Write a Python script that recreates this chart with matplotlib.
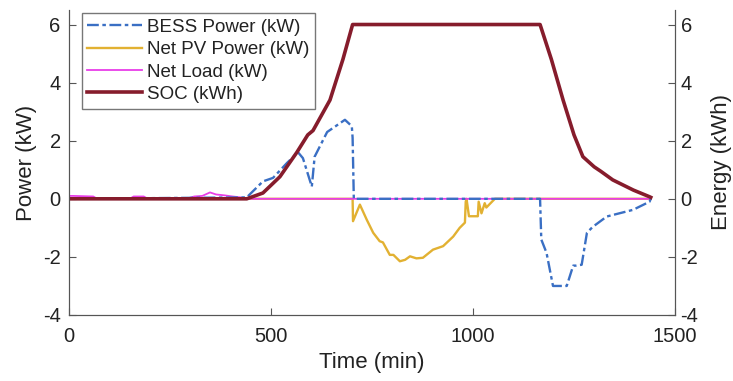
import numpy as np
import matplotlib.pyplot as plt

plt.rcParams['font.family'] = ['Liberation Sans', 'DejaVu Sans']
plt.rcParams['axes.unicode_minus'] = False

# BESS power (kW)
bess_t = [0, 440, 480, 505, 540, 567, 579, 601, 608, 639, 683, 700, 702, 705,
          1166, 1169, 1182, 1198, 1232, 1248, 1255, 1269, 1282, 1296, 1331, 1396, 1437, 1440]
bess_p = [0, 0.05, 0.6, 0.72, 1.24, 1.6, 1.4, 0.42, 1.45, 2.3, 2.72, 2.5, 2.1, 0,
          0, -1.4, -1.86, -3.0, -3.0, -2.3, -2.3, -2.27, -1.17, -0.97, -0.61, -0.38, -0.1, 0]

# Net PV power (kW)
pv_t = [0, 702, 703, 720, 737, 753, 769, 777, 794, 803, 819, 832, 844, 860, 876,
        901, 926, 951, 967, 980, 982, 984, 990, 1012, 1014, 1021, 1029, 1033, 1054, 1440]
pv_p = [0, 0, -0.77, -0.2, -0.72, -1.17, -1.46, -1.5, -1.93, -1.93, -2.15, -2.1, -1.98, -2.05, -2.03,
        -1.75, -1.63, -1.3, -1.0, -0.82, -0.1, 0, -0.6, -0.6, -0.1, -0.5, -0.15, -0.3, 0, 0]

# Net load (kW)
load_t = [0, 10, 60, 70, 150, 160, 185, 195, 290, 310, 330, 349, 364, 384, 405, 425, 430, 1440]
load_p = [0.1, 0.1, 0.08, 0, 0, 0.08, 0.08, 0, 0, 0.08, 0.1, 0.22, 0.15, 0.12, 0.08, 0.05, 0, 0]

# SOC (kWh)
soc_t = [0, 440, 480, 522, 564, 591, 604, 646, 678, 702, 1166, 1194, 1223, 1250, 1272,
         1300, 1316, 1346, 1397, 1437, 1440]
soc_e = [0, 0, 0.2, 0.76, 1.6, 2.2, 2.35, 3.4, 4.8, 6, 6, 4.8, 3.4, 2.2, 1.45,
         1.1, 0.95, 0.65, 0.3, 0.07, 0.05]

fig = plt.figure(figsize=(7.33, 3.81), dpi=100)
ax = fig.add_axes([69 / 733, 66 / 381, 606 / 733, 305 / 381])
ax2 = ax.twinx()

l2, = ax.plot(pv_t, pv_p, color='#e2b132', lw=1.7, label='Net PV Power (kW)')
l3, = ax.plot(load_t, load_p, color='#e83ee8', lw=1.3, label='Net Load (kW)')
l1, = ax.plot(bess_t, bess_p, color='#3a6fc4', lw=1.7, ls=(0, (5, 1.5, 1.5, 1.5)), label='BESS Power (kW)')
l4, = ax2.plot(soc_t, soc_e, color='#861c2c', lw=2.6, label='SOC (kWh)')

for a in (ax, ax2):
    a.set_xlim(0, 1500)
    a.set_ylim(-4, 6.5)
    a.set_yticks([-4, -2, 0, 2, 4, 6])
    a.spines['top'].set_visible(False)
    for s in ('left', 'right', 'bottom'):
        a.spines[s].set_color('#555555')
    a.tick_params(direction='in', length=5, colors='#555555', labelcolor='#222222', labelsize=14.5)

ax.set_xticks([0, 500, 1000, 1500])
ax.tick_params(axis='x', pad=9)
ax.tick_params(axis='y', pad=6)
ax2.tick_params(axis='y', pad=4)
ax.set_xlabel('Time (min)', fontsize=16, labelpad=4, color='#222222')
ax.set_ylabel('Power (kW)', fontsize=16, labelpad=4, color='#222222')
ax2.set_ylabel('Energy (kWh)', fontsize=16, labelpad=9, color='#222222')

leg = ax2.legend(handles=[l1, l2, l3, l4], loc='upper left', bbox_to_anchor=(0.021, 0.99),
                 fontsize=13.5, frameon=True, fancybox=False, edgecolor='#555555',
                 handlelength=2.9, labelspacing=0.28, borderpad=0.3, handletextpad=0.3,
                 borderaxespad=0)
leg.get_frame().set_linewidth(1.0)
for t in leg.get_texts():
    t.set_color('#222222')

fig.savefig('out.png', dpi=100)
